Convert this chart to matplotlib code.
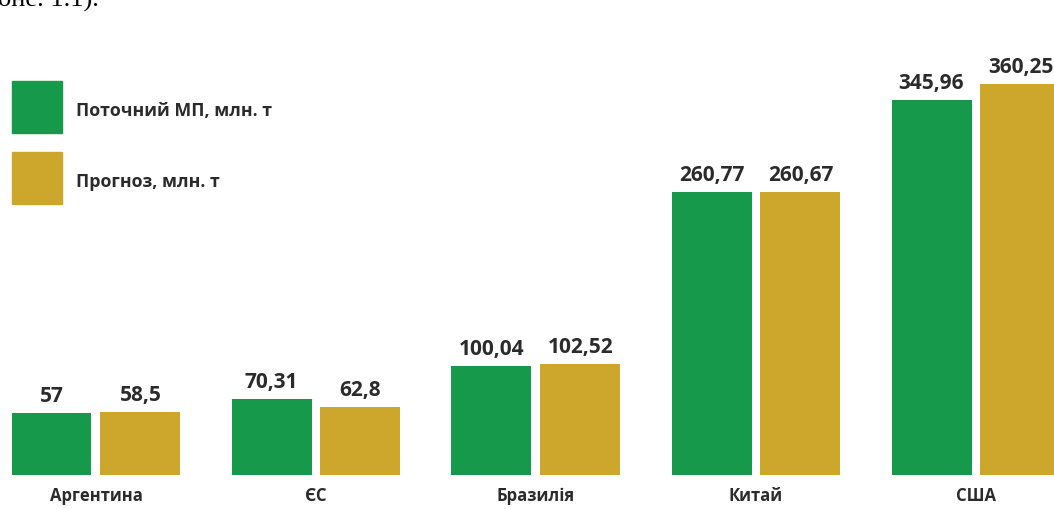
import matplotlib
matplotlib.use("Agg")
import matplotlib.pyplot as plt
import numpy as np

# Data
countries = ["Аргентина", "ЄС", "Бразилія", "Китай", "США"]
current = [57, 70.31, 100.04, 260.77, 345.96]
forecast = [58.5, 62.8, 102.52, 260.67, 360.25]
current_labels = ["57", "70,31", "100,04", "260,77", "345,96"]
forecast_labels = ["58,5", "62,8", "102,52", "260,67", "360,25"]
legend_names = ["Поточний МП, млн. т", "Прогноз, млн. т"]

GREEN = "#17994B"
GOLD = "#CDA62C"
TEXT = "#2b2b2b"
FONT = "Open Sans"

W, H = 1054, 510
fig = plt.figure(figsize=(W / 100, H / 100), dpi=100)
ax = fig.add_axes([0, 0, 1, 1])

# pixel geometry: groups 220 px apart, first centre at 96 px, baseline 34 px up
px_unit = 220.0
first_c = 96.0
y_scale = 1.085  # px per million t
base_px = 34.0

x = np.arange(len(countries))
bw = 80 / px_unit
off = 44.5 / px_unit

b1 = ax.bar(x - off, current, bw, color=GREEN)
b2 = ax.bar(x + off, forecast, bw, color=GOLD)

for bars, labels in ((b1, current_labels), (b2, forecast_labels)):
    for rect, lab in zip(bars, labels):
        ax.annotate(lab, (rect.get_x() + rect.get_width() / 2, rect.get_height()),
                    xytext=(0, 7), textcoords="offset pixels",
                    ha="center", va="bottom", fontsize=15,
                    fontweight="bold", family=FONT, color=TEXT)

for xi, name in zip(x, countries):
    ax.annotate(name, (xi, 0), xytext=(0, -20), textcoords="offset pixels",
                ha="center", va="center", fontsize=12,
                fontweight="bold", family=FONT, color=TEXT)

ax.set_xlim(-first_c / px_unit, (W - first_c) / px_unit)
ax.set_ylim(-base_px / y_scale, (H - base_px) / y_scale)
ax.axis("off")

# legend drawn as squares plus text, in figure pixels
for i, (name, col) in enumerate(zip(legend_names, [GREEN, GOLD])):
    top = H - 82 - i * 71
    fig.patches.append(plt.Rectangle((12 / W, (top - 52) / H), 50 / W, 52 / H,
                                     transform=fig.transFigure, color=col))
    fig.text(76 / W, (top - 29) / H, name, ha="left", va="center",
             fontsize=12.8, fontweight="bold", family=FONT, color=TEXT)

# cut-off line of the surrounding document text
fig.text(-2 / W, 1.0, "оне. 1.1).", ha="left", va="center",
         fontsize=19, family="Liberation Serif", color="black")

fig.savefig("out.png", dpi=100, facecolor="white")
